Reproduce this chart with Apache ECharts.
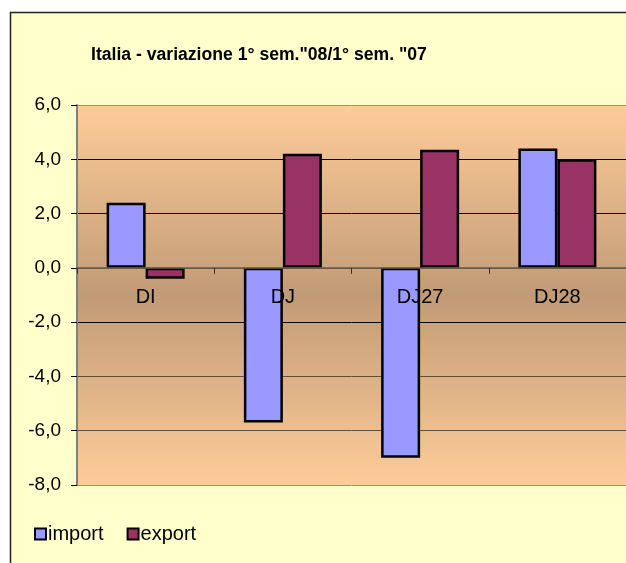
<!DOCTYPE html>
<html>
<head>
<meta charset="utf-8">
<script src="https://cdn.jsdelivr.net/npm/echarts@6/dist/echarts.min.js"></script>
<style>
html,body{margin:0;padding:0;background:#fff;}
#chart{width:626px;height:563px;}
</style>
</head>
<body>
<div id="chart"></div>
<script>
var titleText = 'Italia - variazione 1° sem."08/1° sem. "07';
var categories = ['DI', 'DJ', 'DJ27', 'DJ28'];
var importValues = [2.4, -5.7, -7.0, 4.4];
var exportValues = [-0.4, 4.2, 4.35, 4.0];
var seriesNames = ['import', 'export'];
var yMin = -8, yMax = 6, yStep = 2;

var chart = echarts.init(document.getElementById('chart'), null, {renderer: 'canvas'});
var FONT = '"Liberation Sans", Arial, sans-serif';

chart.setOption({
  backgroundColor: '#ffffff',
  animation: false,
  graphic: [{
    type: 'rect', z: -10, silent: true,
    shape: {x: 10.5, y: 12.5, width: 700, height: 700},
    style: {fill: '#FFFFCC', stroke: '#222', lineWidth: 1.5}
  }],
  title: {
    text: titleText,
    left: 91, top: 46, padding: 0,
    textStyle: {fontFamily: FONT, fontSize: 17.6, fontWeight: 'bold', color: '#000'}
  },
  legend: {
    left: 34, top: 524, padding: 0,
    itemWidth: 11, itemHeight: 11, itemGap: 23,
    icon: 'rect',
    textStyle: {fontFamily: FONT, fontSize: 20, color: '#000', padding: [0, 0, 0, -3]},
    data: seriesNames
  },
  grid: {
    left: 77, right: -3, top: 105, bottom: 78,
    show: true, borderWidth: 0,
    backgroundColor: {
      type: 'linear', x: 0, y: 0, x2: 0, y2: 1,
      colorStops: [
        {offset: 0, color: '#FECC99'},
        {offset: 0.5, color: '#C19B76'},
        {offset: 1, color: '#FECC99'}
      ]
    }
  },
  xAxis: {
    type: 'category',
    data: categories,
    z: 5,
    axisLine: {onZero: true, lineStyle: {color: '#6a5a4a', width: 1.5}},
    axisTick: {show: true, length: 6, lineStyle: {color: '#333'}},
    axisLabel: {fontFamily: FONT, fontSize: 20, color: '#000', margin: -198},
    splitLine: {show: false}
  },
  yAxis: {
    type: 'value',
    min: yMin, max: yMax, interval: yStep,
    axisLine: {show: true, lineStyle: {color: '#808080', width: 2}},
    axisTick: {show: true, length: 6, lineStyle: {color: '#000'}},
    axisLabel: {
      fontFamily: FONT, fontSize: 19, color: '#000', margin: 16,
      formatter: function (v) { return v.toFixed(1).replace('.', ','); }
    },
    splitLine: {
      show: true,
      lineStyle: {
        color: ['#909090', '#5e4e3e', '#5e4e3e', '#000', '#6a5a4a', '#000', '#000', '#909090'],
        width: 1
      }
    }
  },
  series: [
    {
      name: seriesNames[0], type: 'bar', data: importValues,
      barWidth: 39, barGap: '0%',
      itemStyle: {color: '#9999FF', borderColor: '#000', borderWidth: 2.5}
    },
    {
      name: seriesNames[1], type: 'bar', data: exportValues,
      barWidth: 39, barGap: '0%',
      itemStyle: {color: '#993366', borderColor: '#000', borderWidth: 2.5}
    }
  ]
});
</script>
</body>
</html>
